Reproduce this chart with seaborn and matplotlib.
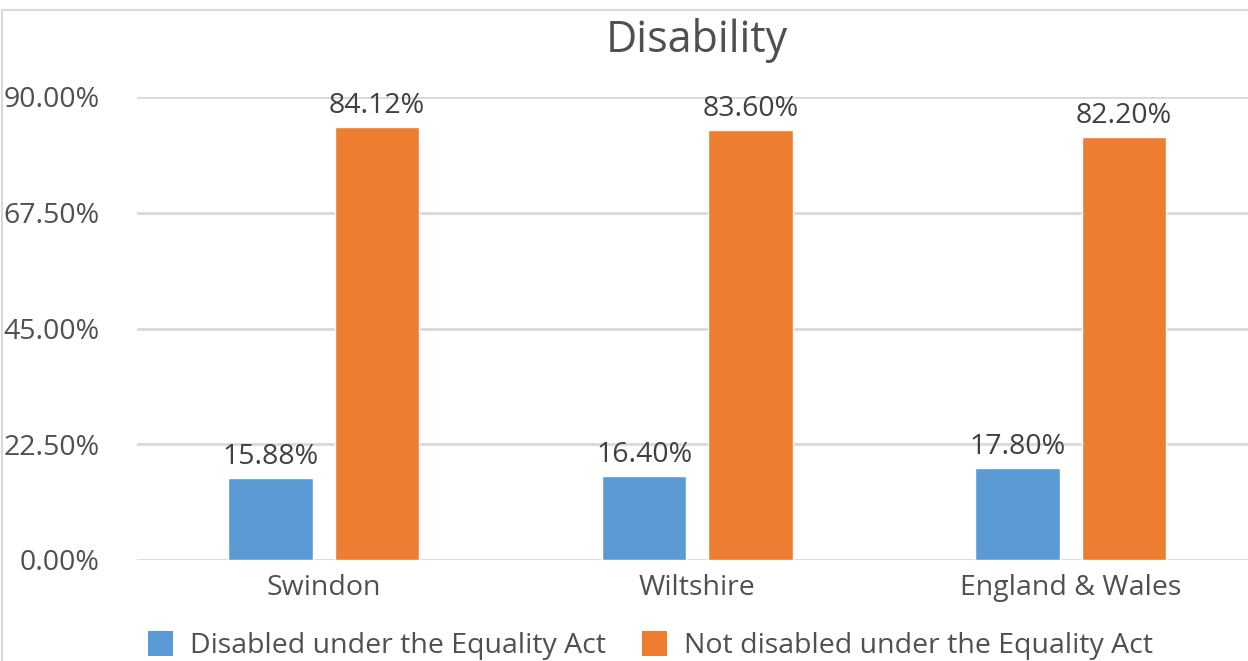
import matplotlib
matplotlib.use("Agg")
import matplotlib.pyplot as plt
from matplotlib.patches import Rectangle, Patch
import pandas as pd
import seaborn as sns

# Data
areas = ["Swindon", "Wiltshire", "England & Wales"]
series_names = ["Disabled under the Equality Act", "Not disabled under the Equality Act"]
disabled = [15.88, 16.40, 17.80]
not_disabled = [84.12, 83.60, 82.20]
y_ticks = [0, 22.5, 45, 67.5, 90]
colors = ["#5B9BD5", "#ED7D31"]

df = pd.DataFrame({
    "area": areas * 2,
    "group": [series_names[0]] * len(areas) + [series_names[1]] * len(areas),
    "value": disabled + not_disabled,
})

sns.set_theme(style="white")
plt.rcParams["font.family"] = ["Open Sans", "DejaVu Sans"]
text_color = "#505050"
grid_color = "#D9D9D9"

W, H = 1248, 661
fig = plt.figure(figsize=(W / 100, H / 100), dpi=100)
fig.patch.set_facecolor("white")

left, right, bottom, top = 137, 1257.5, 560, 97
ax = fig.add_axes([left / W, 1 - bottom / H, (right - left) / W, (bottom - top) / H])

sns.barplot(data=df, x="area", y="value", hue="group", order=areas,
            hue_order=series_names, palette=colors, width=0.57, gap=0.21,
            saturation=1, ax=ax, legend=False)

ax.set_ylim(0, 90)
ax.set_xlim(-0.5, len(areas) - 0.5)
ax.set_yticks(y_ticks)
ax.set_yticklabels([f"{t:.2f}%" for t in y_ticks])
ax.set_xlabel("")
ax.set_ylabel("")
for s in ax.spines.values():
    s.set_visible(False)
ax.yaxis.grid(True, color=grid_color, linewidth=2)
ax.set_axisbelow(True)
ax.tick_params(axis="y", length=0, pad=27, labelsize=20.5, labelcolor=text_color)
ax.tick_params(axis="x", length=0, pad=10, labelsize=20.5, labelcolor=text_color)

for cont in ax.containers:
    ax.bar_label(cont, labels=[f"{v:.2f}%" for v in cont.datavalues],
                 padding=5, fontsize=20.5, color="#404040")

fig.text(697 / W, 1 - 52 / H, "Disability", ha="center", va="baseline",
         fontsize=31, color=text_color)

handles = [Patch(facecolor=c, edgecolor="none") for c in colors]
fig.legend(handles, series_names, loc="upper left",
           bbox_to_anchor=(148 / W, 1 - 631 / H), ncol=2, frameon=False,
           fontsize=20.5, labelcolor=text_color, handlelength=0.88,
           handleheight=0.95, handletextpad=0.6, columnspacing=1.25,
           borderpad=0, borderaxespad=0)

fig.add_artist(Rectangle((2 / W, -0.2), 1.2, 1.2 - 10 / H,
                         transform=fig.transFigure, fill=False,
                         edgecolor=grid_color, linewidth=1.5))

fig.savefig("out.png", dpi=100)
